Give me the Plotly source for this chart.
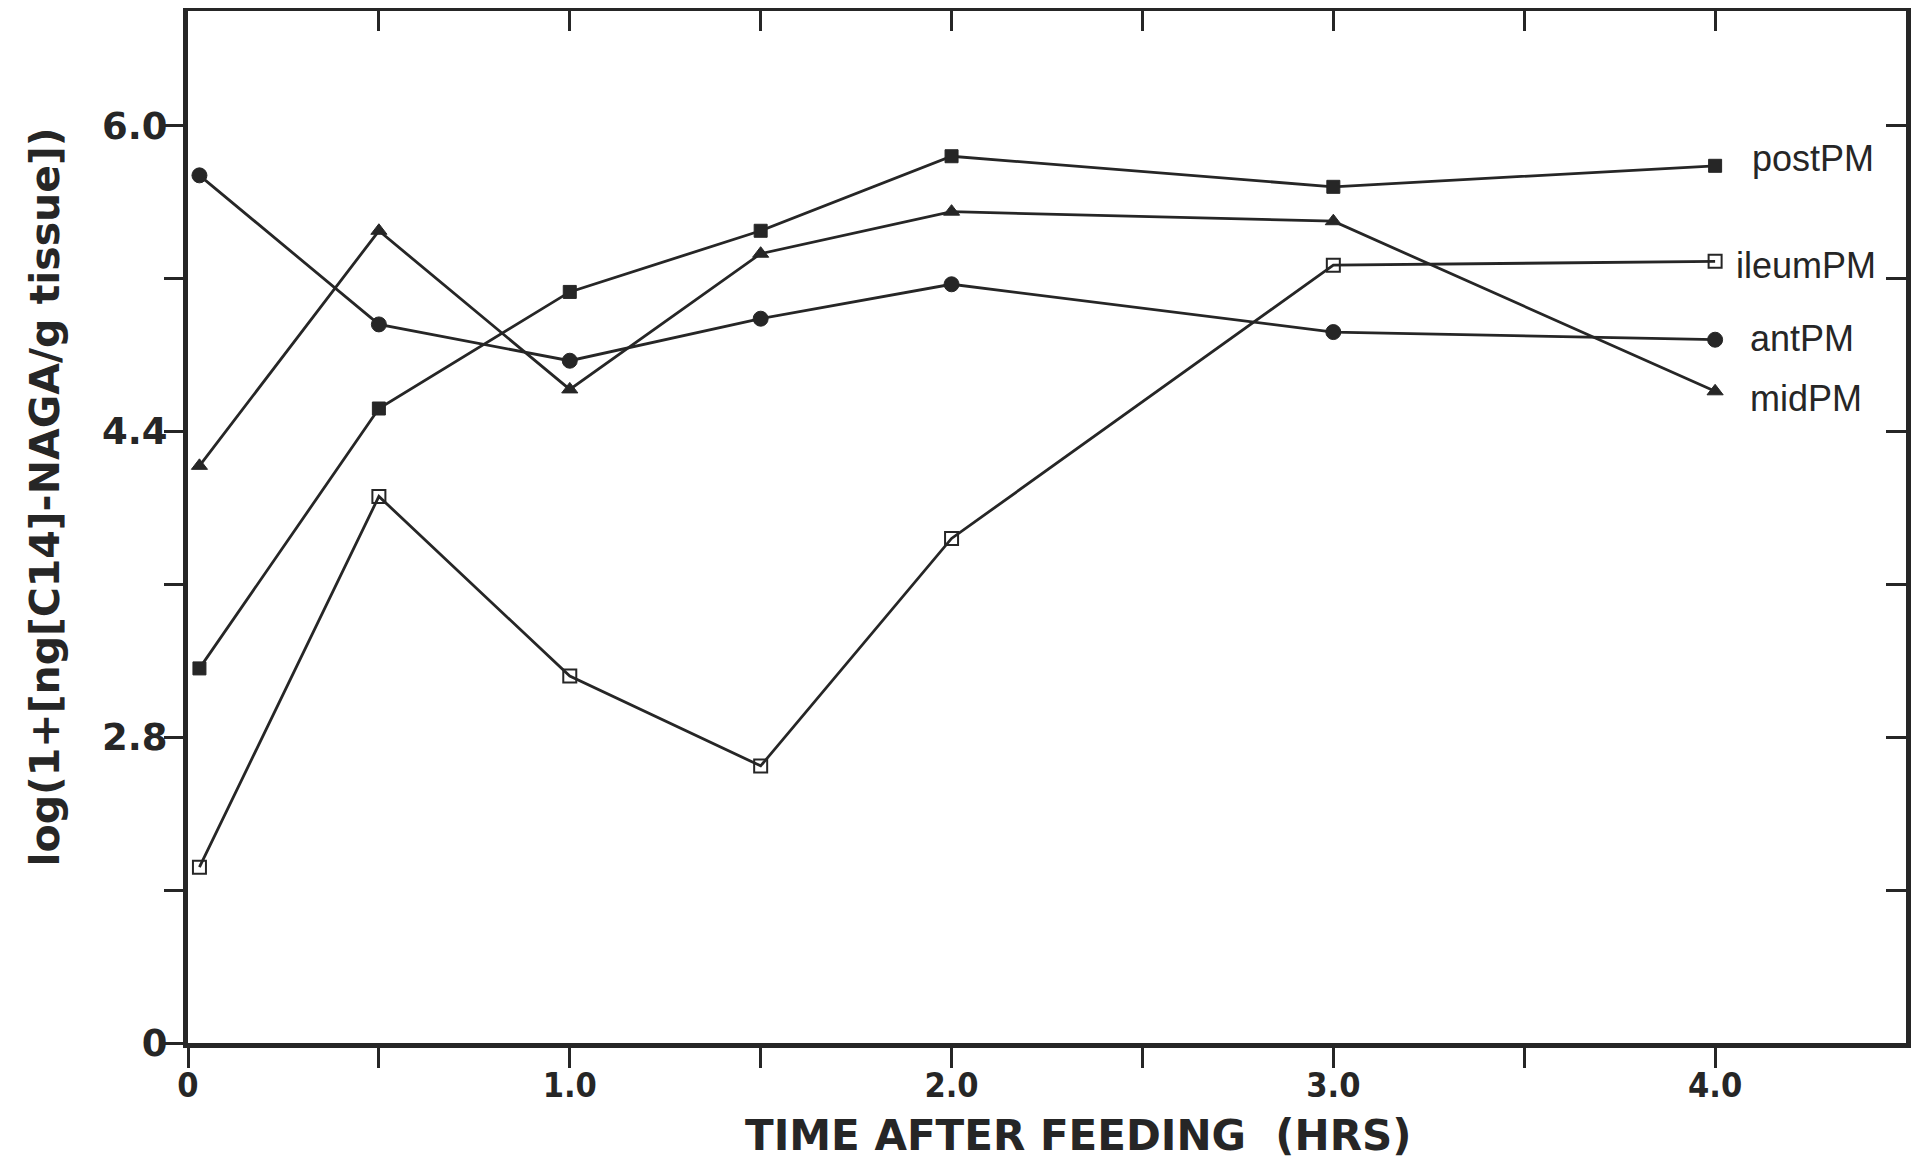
import plotly.graph_objects as go

# ---- data ----
time_hrs = [0.03, 0.5, 1.0, 1.5, 2.0, 3.0, 4.0]
postPM = [3.16, 4.52, 5.13, 5.45, 5.84, 5.68, 5.79]
ileumPM = [2.12, 4.06, 3.12, 2.65, 3.84, 5.27, 5.29]
antPM = [5.74, 4.96, 4.77, 4.99, 5.17, 4.92, 4.88]
midPM = [4.22, 5.45, 4.62, 5.33, 5.55, 5.50, 4.61]

series_names = ["postPM", "ileumPM", "antPM", "midPM"]
series_values = [postPM, ileumPM, antPM, midPM]

x_tickvals = [0, 0.5, 1.0, 1.5, 2.0, 2.5, 3.0, 3.5, 4.0]
x_ticktext = ["0", "", "1.0", "", "2.0", "", "3.0", "", "4.0"]
y_tickvals = [1.2, 2.0, 2.8, 3.6, 4.4, 5.2, 6.0]
y_ticktext = ["0", "", "2.8", "", "4.4", "", "6.0"]

x_title = "TIME AFTER FEEDING\u00a0\u00a0(HRS)"
y_title = "log(1+[ng[C14]-NAGA/g tissue])"

# ---- styles ----
INK = "#262626"
marker_styles = {
    "postPM": dict(symbol="square", size=13, color=INK, line=dict(color=INK, width=1)),
    "ileumPM": dict(symbol="square-open", size=13, color=INK, line=dict(color=INK, width=2)),
    "antPM": dict(symbol="circle", size=15, color=INK, line=dict(color=INK, width=1)),
    "midPM": dict(symbol="triangle-up", size=14, color=INK, line=dict(color=INK, width=1)),
}
label_xshift = {"postPM": 35, "ileumPM": 19, "antPM": 33, "midPM": 33}
label_yshift = {"postPM": 7, "ileumPM": -4, "antPM": 1, "midPM": -7}

fig = go.Figure()
for name, vals in zip(series_names, series_values):
    fig.add_trace(go.Scatter(
        x=time_hrs, y=vals, mode="lines+markers", name=name,
        line=dict(color=INK, width=2.8),
        marker=marker_styles[name],
        showlegend=False,
    ))
    fig.add_annotation(
        x=time_hrs[-1], y=vals[-1], text=name, showarrow=False,
        xanchor="left", yanchor="middle",
        xshift=label_xshift[name], yshift=label_yshift[name],
        font=dict(family="Liberation Sans, Arial, sans-serif", size=36, color=INK),
    )

# empty trace to anchor the mirrored (top/right) axes
fig.add_trace(go.Scatter(x=[], y=[], xaxis="x2", yaxis="y2", showlegend=False))

X_RANGE = [0, 4.5]
Y_RANGE = [1.2, 6.6]
COND = "DejaVu Sans Condensed, Liberation Sans Narrow, sans-serif"
WIDE = "DejaVu Sans, Liberation Sans, sans-serif"

# axis titles as annotations (placed like the original, off-centre)
fig.add_annotation(
    text=x_title, xref="paper", yref="paper", x=0.518, y=-0.090,
    xanchor="center", yanchor="middle", showarrow=False,
    font=dict(family=WIDE, size=42, color=INK, weight="bold"),
)
fig.add_annotation(
    text=y_title, xref="paper", yref="paper", x=-0.083, y=0.529,
    xanchor="center", yanchor="middle", showarrow=False, textangle=-90,
    font=dict(family=WIDE, size=41, color=INK, weight="bold"),
)

fig.update_layout(
    width=1911, height=1152,
    paper_bgcolor="white", plot_bgcolor="white",
    margin=dict(l=180, r=13, t=3, b=117),
    xaxis=dict(
        range=X_RANGE, tickmode="array", tickvals=x_tickvals, ticktext=x_ticktext,
        ticks="outside", ticklen=20, tickwidth=3, tickcolor=INK,
        ticklabelstandoff=-12, automargin=False,
        showline=True, linewidth=5, linecolor=INK, showgrid=False, zeroline=False,
        tickfont=dict(family=COND, size=34, color=INK, weight="bold"),
    ),
    yaxis=dict(
        range=Y_RANGE, tickmode="array", tickvals=y_tickvals, ticktext=y_ticktext,
        ticks="outside", ticklen=19, tickwidth=3, tickcolor=INK,
        ticklabelstandoff=-11, automargin=False,
        showline=True, linewidth=5, linecolor=INK, showgrid=False, zeroline=False,
        tickfont=dict(family=WIDE, size=37, color=INK, weight="bold"),
    ),
    xaxis2=dict(
        range=X_RANGE, overlaying="x", side="top", anchor="y",
        tickmode="array", tickvals=x_tickvals[1:], showticklabels=False,
        ticks="inside", ticklen=20, tickwidth=3, tickcolor=INK, automargin=False,
        showline=True, linewidth=5, linecolor=INK, showgrid=False, zeroline=False,
    ),
    yaxis2=dict(
        range=Y_RANGE, overlaying="y", side="right", anchor="x",
        tickmode="array", tickvals=y_tickvals[1:], showticklabels=False,
        ticks="inside", ticklen=20, tickwidth=3, tickcolor=INK, automargin=False,
        showline=True, linewidth=5, linecolor=INK, showgrid=False, zeroline=False,
    ),
)

fig.write_html("out.html")
